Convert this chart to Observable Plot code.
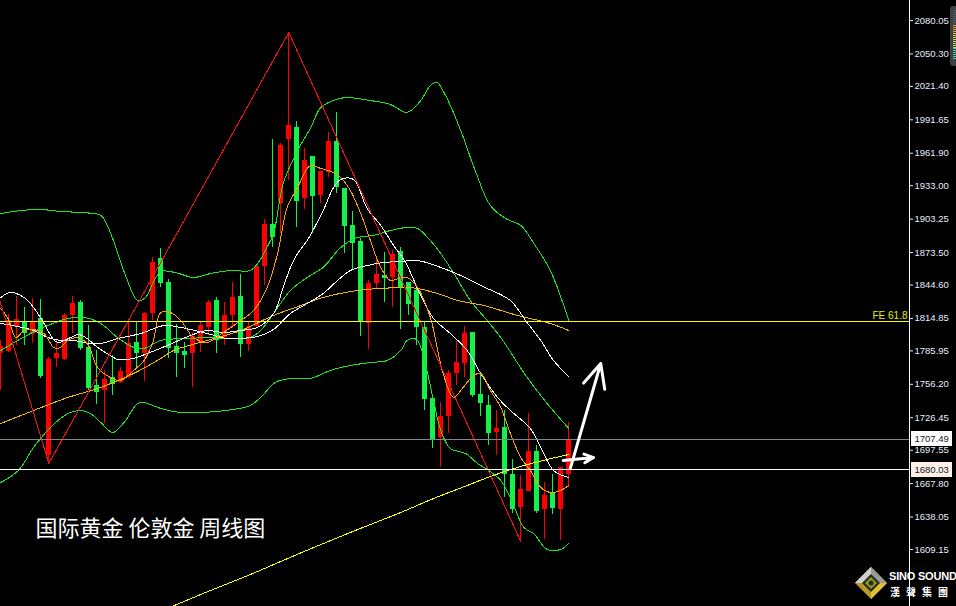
<!DOCTYPE html>
<html><head><meta charset="utf-8">
<script src="https://cdn.jsdelivr.net/npm/d3@7"></script>
<script src="https://cdn.jsdelivr.net/npm/@observablehq/plot@0.6"></script>
<style>
html,body{margin:0;padding:0;background:#000;}
#wrap{position:relative;width:956px;height:606px;overflow:hidden;background:#000;}
#wrap svg{display:block;}
#logo{position:absolute;left:854px;top:566px;width:100px;height:36px;}
#logo .en{position:absolute;left:35px;top:4px;font:bold 11px "Liberation Sans",Arial,sans-serif;color:#fff;letter-spacing:-0.2px;white-space:nowrap;}
#logo .zh{position:absolute;left:36px;top:18px;font:bold 10px "Noto Sans CJK TC",sans-serif;color:#fff;letter-spacing:6px;white-space:nowrap;}
#gauge{position:absolute;left:950px;top:6px;}
</style></head><body>
<div id="wrap"></div>
<script>
// ---- candle data (weekly, index 0..71) ----
const open = [1783.6,1785.4,1807.7,1811.2,1800.5,1814.8,1692.8,1779.2,1778.3,1817.5,
1829.0,1789.0,1755.2,1750.7,1762.3,1757.8,1762.3,1793.4,1783.6,1819.2,
1868.2,1846.8,1789.9,1785.4,1783.6,1793.4,1806.8,1830.8,1797.8,1817.5,
1834.4,1791.6,1807.7,1861.0,1898.5,1917.1,1974.1,1984.8,1921.6,1959.0,
1924.3,1944.7,1972.3,1930.5,1897.6,1883.3,1810.3,1845.9,1853.0,1851.3,
1874.4,1846.8,1839.7,1806.8,1743.6,1708.9,1727.5,1765.8,1774.7,1802.3,
1747.1,1737.3,1713.3,1717.8,1675.9,1646.5,1660.8,1696.4,1644.8,1659.9,
1644.8,1675.9];
const high = [1795.2,1818.3,1834.4,1824.6,1832.6,1831.7,1780.1,1795.2,1819.2,1834.4,
1830.8,1808.5,1786.3,1768.5,1781.9,1771.2,1813.0,1811.2,1820.5,1869.1,
1877.1,1849.5,1809.4,1793.4,1802.3,1811.2,1830.8,1833.5,1829.0,1846.8,
1853.9,1811.2,1861.0,1902.9,1974.1,1970.6,2069.4,1990.1,1966.1,1959.0,
1945.6,1980.4,1998.2,1930.5,1910.0,1886.0,1848.6,1870.0,1873.5,1875.3,
1878.0,1846.8,1841.5,1812.1,1746.2,1740.0,1768.5,1794.3,1807.7,1802.3,
1764.9,1746.2,1732.9,1732.9,1689.3,1675.0,1730.2,1701.7,1668.8,1675.9,
1682.2,1722.2];
const low = [1750.7,1784.5,1790.7,1790.7,1792.5,1761.4,1685.7,1771.2,1777.4,1801.4,
1786.3,1750.7,1738.2,1721.3,1746.2,1756.9,1761.4,1771.2,1758.7,1813.0,
1842.4,1779.2,1762.3,1770.3,1753.4,1784.5,1799.6,1783.6,1790.7,1805.9,
1780.1,1785.4,1807.7,1844.1,1878.0,1890.5,1937.6,1895.8,1911.8,1890.5,
1917.1,1940.3,1926.0,1872.6,1858.4,1798.7,1787.2,1841.5,1829.0,1824.6,
1805.0,1817.5,1790.7,1732.9,1699.1,1682.2,1712.4,1755.2,1762.3,1744.5,
1727.5,1701.7,1692.8,1655.4,1641.2,1616.3,1660.8,1641.2,1618.1,1640.3,
1617.2,1664.4];
const close = [1789.9,1813.0,1813.9,1801.4,1811.2,1763.2,1778.3,1783.6,1817.5,1828.1,
1788.1,1752.5,1748.9,1760.5,1756.0,1767.6,1792.5,1783.6,1819.2,1864.6,
1845.9,1788.1,1783.6,1781.9,1798.7,1808.5,1829.0,1795.2,1817.5,1833.5,
1791.6,1807.7,1861.0,1898.5,1886.9,1968.8,1986.6,1918.9,1955.4,1923.4,
1945.6,1972.3,1931.4,1896.7,1881.5,1812.1,1845.9,1853.9,1850.4,1871.8,
1842.4,1827.2,1806.8,1742.7,1707.1,1727.5,1765.8,1775.6,1801.4,1746.2,
1739.1,1712.4,1716.9,1675.9,1644.8,1662.6,1696.4,1643.0,1657.2,1645.6,
1682.2,1707.5];

// ---- indicator lines: [candle index, price] ----
const upperBand = [[0,1908.2],[2.5,1910.9],[5,1911.8],[7.5,1910.0],[10,1909.1],[12.5,1906.5],[13.3,1897.6],[14.3,1879.8],[15.6,1853.0],[17.1,1830.8],[18.1,1833.5],[19,1845.9],[20,1856.6],[21.8,1855.7],[24.1,1851.3],[26.2,1854.8],[28.7,1857.5],[31.2,1857.5],[32.2,1864.6],[33.2,1877.1],[34.1,1890.5],[35.3,1934.9],[37.1,1964.3],[38.7,1983.9],[40,2002.6],[41.6,2008.8],[43.1,2011.5],[46.2,2008.8],[48.7,2005.3],[50.8,1998.2],[52.5,2008.8],[53.7,2022.2],[54.5,2024.9],[55.6,2013.3],[57.5,1982.1],[59.3,1946.5],[61.2,1915.4],[63.1,1903.8],[65,1897.6],[66.8,1879.8],[68.7,1857.5],[71,1813.0]];
const middleBand = [[0,1786.3],[2.1,1795.2],[5,1805.9],[8.4,1814.8],[10.4,1815.7],[12.5,1810.3],[14.6,1797.8],[16.6,1789.0],[17.9,1788.1],[20,1795.2],[23.1,1796.9],[25.8,1797.8],[31.2,1797.8],[32.7,1805.9],[34.1,1819.2],[36.2,1839.7],[38.3,1851.3],[40.3,1860.2],[42.5,1878.0],[44.6,1886.9],[46.6,1888.7],[48.7,1893.1],[50.8,1895.8],[52.1,1894.9],[53.7,1884.2],[55,1872.6],[56.8,1853.0],[58.7,1830.8],[60.8,1813.0],[62.5,1797.8],[65.8,1762.3],[68.3,1739.1],[71,1716.9]];
const lowerBand = [[0,1668.8],[2.2,1679.5],[4.1,1700.0],[6.2,1717.8],[8.4,1730.2],[10,1732.9],[11.2,1730.2],[12.5,1722.2],[14,1713.3],[15.4,1722.2],[17.1,1739.1],[17.9,1740.0],[20,1734.7],[22.5,1731.1],[25,1731.1],[28.1,1732.9],[31.2,1737.3],[32.7,1746.2],[34.3,1757.8],[36.2,1761.4],[38.7,1761.4],[41.2,1768.5],[43.7,1772.9],[46.2,1775.6],[48.3,1777.4],[50,1786.3],[50.8,1795.2],[52,1796.0],[53.1,1772.9],[54.1,1741.8],[55,1715.1],[56.2,1699.1],[58.1,1694.6],[59.6,1685.7],[61,1679.5],[62.5,1670.6],[63.7,1655.4],[65.4,1628.7],[66.6,1623.4],[68.3,1609.2],[70,1609.2],[71,1614.5]];
const whiteFast = [[0,1833.5],[1.2,1837.9],[2.9,1833.5],[4.1,1824.6],[5.4,1810.3],[6.6,1796.0],[7.2,1793.4],[8.7,1797.8],[9.7,1800.5],[10.8,1796.9],[12.1,1789.0],[13.7,1781.9],[14.6,1778.3],[16.6,1779.2],[18.3,1783.6],[20.8,1790.7],[23.7,1799.6],[25.8,1804.1],[27.8,1802.3],[30,1804.1],[32.1,1806.8],[34.1,1819.2],[35.3,1842.4],[36.2,1860.0],[37.1,1872.6],[38.3,1884.2],[40.3,1910.9],[41.6,1931.4],[42.5,1938.5],[44.1,1938.5],[45.8,1912.7],[47.5,1897.6],[49.1,1879.8],[50.6,1864.6],[52.5,1835.2],[54.1,1814.8],[56.2,1801.4],[58.3,1786.3],[60,1765.8],[62.1,1744.5],[63.7,1732.9],[66.2,1716.9],[67.5,1700.0],[69.1,1679.5],[71,1673.2]];
const whiteSlow = [[0,1810.3],[2.1,1807.7],[4.1,1804.1],[5.9,1797.8],[7.5,1795.2],[9.1,1795.2],[11.2,1792.5],[12.5,1792.5],[14.6,1796.9],[17.5,1801.4],[20.4,1808.5],[22.5,1806.8],[25.8,1801.4],[28.4,1796.9],[31.2,1797.8],[32.1,1798.7],[34.1,1805.0],[36.2,1819.2],[38.3,1828.1],[40.3,1837.0],[42.1,1848.6],[43.7,1857.5],[45.8,1861.9],[47.8,1864.6],[50,1865.5],[52.1,1866.4],[55,1860.2],[57.5,1853.0],[60,1844.1],[63.7,1830.8],[65.6,1813.0],[67.5,1795.2],[69.1,1777.4],[71,1763.2]];
const orangeMA = [[0,1823.7],[0.9,1814.8],[1.9,1797.8],[2.9,1804.1],[4.1,1805.0],[5.4,1801.4],[6.6,1789.0],[7.2,1788.1],[8.4,1795.2],[9.6,1797.8],[10.8,1792.5],[12.1,1771.2],[13.7,1762.3],[15,1759.6],[16.6,1768.5],[17.9,1777.4],[19,1793.4],[20,1820.1],[21.2,1820.1],[22.5,1813.0],[24.1,1797.8],[25.8,1793.4],[27.8,1802.3],[30,1813.0],[31.6,1821.9],[33.3,1842.4],[34.6,1872.6],[35.8,1913.6],[37.1,1931.4],[38.7,1951.0],[40,1948.3],[41.6,1944.7],[42.5,1940.3],[43.7,1928.7],[45,1908.2],[46.2,1884.2],[47.5,1860.2],[48.7,1848.6],[50,1851.3],[50.8,1851.3],[52.1,1842.4],[53.7,1815.7],[55.3,1765.8],[56.6,1744.5],[57.8,1753.4],[59.1,1764.0],[60,1765.8],[61.2,1750.7],[62.5,1735.6],[63.7,1712.4],[65,1691.0],[66.2,1679.5],[67.5,1664.4],[68.7,1659.9],[70,1661.7],[71,1666.1]];
const goldMA = [[0,1721.3],[4.1,1732.9],[8.4,1744.5],[12.5,1753.4],[16.6,1765.8],[20,1779.2],[21.6,1786.3],[25.8,1795.2],[30,1804.1],[34.1,1817.5],[37.5,1826.3],[40.3,1833.5],[44.6,1839.7],[47.5,1841.5],[50.8,1842.4],[52.1,1841.5],[55,1836.1],[57.1,1830.8],[60.4,1826.3],[64.6,1817.5],[68.7,1810.3],[71,1804.1]];
const yellowMA = [[20.6,1556.0],[25,1569.1],[31.2,1586.9],[37.5,1606.1],[43.7,1624.3],[50,1642.1],[54.1,1654.5],[58.3,1666.1],[61.2,1674.1],[64.6,1682.2],[67.8,1688.4],[71,1693.7]];
const zigzag = [[-1,1851.3],[6,1685.7],[36,2069.4],[65,1616.3]];

// ---- levels, ticks, annotations ----
const fe618 = 1812.1;
const priceNow = 1707.49;
const priceSupport = 1680.03;
const tickValues = [2080.05,2050.30,2021.40,1991.65,1961.90,1933.00,1903.25,1873.50,1844.60,1814.85,1785.95,1756.20,1726.45,1697.55,1667.80,1638.05,1609.15];
const arrowFrom = [[71.2,1681.3],[70.3,1688.4]];
const arrowTo   = [[75.0,1774.7],[74.1,1691.0]];
const title = "国际黄金 伦敦金 周线图";

const candles = open.map((o,i)=>({i, open:o, high:high[i], low:low[i], close:close[i]}));
const RED = "#ff0000", GREEN = "#14f04c";
const col = d => d.close >= d.open ? RED : GREEN;
const X_MAX = 113.6;
const pts = a => a.map(([i,v])=>({i,v}));
const arrows = arrowFrom.map((f,k)=>({x1:f[0],y1:f[1],x2:arrowTo[k][0],y2:arrowTo[k][1]}));
const labels = [{v:priceNow,bg:"#ffffff"},{v:priceSupport,bg:"#fff0e6"}];

const line = (arr, stroke, extra={}) => Plot.line(pts(arr), {x:"i", y:"v", stroke, strokeWidth:1, curve:"catmull-rom", shapeRendering:"crispEdges", ...extra});

const chart = Plot.plot({
  width:956, height:606,
  marginLeft:0, marginRight:47, marginTop:0, marginBottom:0,
  style:{background:"#000", color:"#fff", fontFamily:"'Liberation Sans', Arial, sans-serif"},
  x:{type:"linear", domain:[-0.04, X_MAX], axis:null},
  y:{type:"linear", domain:[1558.4, 2097.85], axis:null},
  marks:[
    // candles
    Plot.ruleX(candles, {x:"i", y1:"low", y2:"high", stroke:col, strokeWidth:1, shapeRendering:"crispEdges"}),
    Plot.rect(candles, {x1:d=>d.i-0.31, x2:d=>d.i+0.31, y1:"open", y2:"close", fill:col, shapeRendering:"crispEdges"}),
    // indicators
    line(upperBand, "#1ee61e"),
    line(middleBand, "#1ee61e"),
    line(lowerBand, "#1ee61e"),
    line(yellowMA, "#ffff00"),
    line(goldMA, "#f0b800"),
    line(whiteSlow, "#ffffff"),
    line(whiteFast, "#ffffff"),
    line(orangeMA, "#ffa000"),
    // zigzag
    Plot.line(pts(zigzag), {x:"i", y:"v", stroke:"#ff1010", strokeWidth:1, clip:true, shapeRendering:"crispEdges"}),
    // horizontal levels
    Plot.ruleY([fe618], {stroke:"#ffff00", strokeWidth:1, shapeRendering:"crispEdges"}),
    Plot.ruleY([priceNow], {stroke:"#80878f", strokeWidth:1, shapeRendering:"crispEdges"}),
    Plot.ruleY([priceSupport], {stroke:"#ffffff", strokeWidth:1, shapeRendering:"crispEdges"}),
    Plot.text([fe618], {x:()=>X_MAX, y:d=>d, text:()=>"FE 61.8", textAnchor:"end", dx:-2, dy:-6, fill:"#e4f000", fontSize:10}),
    // arrows
    Plot.arrow(arrows, {x1:"x1", y1:"y1", x2:"x2", y2:"y2", stroke:"#ffffff", strokeWidth:3, headLength:13, headAngle:50}),
    // price axis
    Plot.ruleX([X_MAX], {stroke:"#ffffff", strokeWidth:1, shapeRendering:"crispEdges"}),
    Plot.axisY({anchor:"right", ticks:tickValues, tickFormat:d=>d.toFixed(2), tickSize:3, tickPadding:2, fontSize:9.5, color:"#e8eeff", label:null}),
    Plot.rect(labels, {x1:X_MAX+0.2, x2:X_MAX+5.35, y1:d=>d.v-6.4, y2:d=>d.v+6.4, fill:"bg", shapeRendering:"crispEdges"}),
    Plot.text(labels, {x:()=>X_MAX, y:"v", text:d=>d.v.toFixed(2), dx:5, textAnchor:"start", fill:"#101828", fontSize:9.5}),
    // title
    Plot.text([title], {frameAnchor:"bottom-left", dx:35, dy:-78, lineAnchor:"middle", textAnchor:"start", fill:"#ffffff", fontSize:22, fontFamily:"'Noto Sans CJK SC', sans-serif"})
  ]
});
const wrap = document.getElementById("wrap");
wrap.appendChild(chart);

// logo + gauge decorations
const logo = document.createElement("div");
logo.id = "logo";
logo.innerHTML = `<svg width="34" height="34" viewBox="0 0 34 34" style="position:absolute;left:0;top:0">
  <polygon points="17,1 33,17 17,33 1,17" fill="#b89a2a"/>
  <polygon points="17,1 33,17 17,17 1,17" fill="#9a9a9a"/>
  <polygon points="17,1 1,17 17,17" fill="#d0d0d0"/>
  <polygon points="17,33 33,17 17,17" fill="#e0c030"/>
  <polygon points="17,8 26,17 17,26 8,17" fill="#2a2a1a"/>
  <polygon points="17,11 23,17 17,23 11,17" fill="#8aa020"/>
  <circle cx="17" cy="17" r="2.5" fill="#2a2a1a"/>
</svg><div class="en">SINO SOUND</div><div class="zh">漢聲集團</div>`;
wrap.appendChild(logo);
const g = document.createElement("div");
g.id = "gauge";
g.innerHTML = `<svg width="6" height="60"><rect x="0" y="0" width="10" height="60" rx="3" fill="#3c4048"/>
${[["#555a60",4,18],["#f0a020",19,27],["#e8d020",27,35],["#b8e040",35,42],["#40d0a0",42,54]].map(([c,a,b])=>{let s="";for(let y=a;y<b;y+=2)s+=`<rect x="3" y="${y}" width="3" height="1" fill="${c}"/>`;return s;}).join("")}
</svg>`;
wrap.appendChild(g);
</script>
</body></html>
